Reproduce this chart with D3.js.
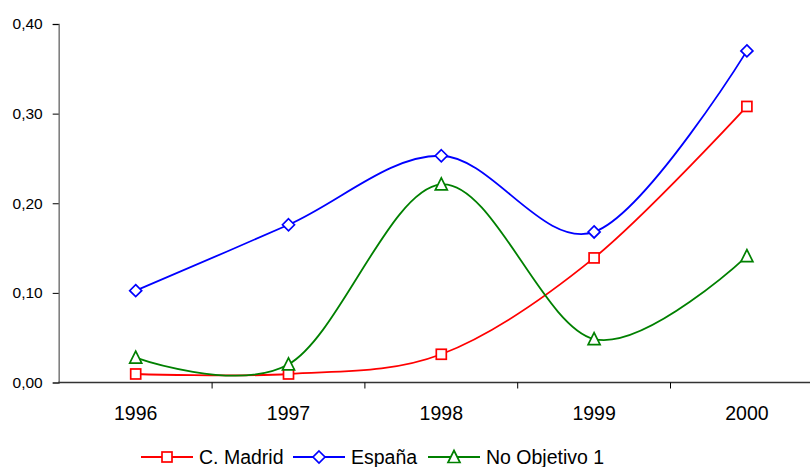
<!DOCTYPE html>
<html><head><meta charset="utf-8">
<script src="https://cdn.jsdelivr.net/npm/d3@7/dist/d3.min.js"></script>
<style>body{margin:0;background:#fff}svg{display:block;font-family:"Liberation Sans",Arial,sans-serif}</style>
</head><body><svg id="c" width="810" height="467"></svg>
<script>
const years = ["1996","1997","1998","1999","2000"];
const madrid = [0.0095, 0.0095, 0.0315, 0.139, 0.308];
const espana = [0.1025, 0.176, 0.253, 0.168, 0.370];
const noObj1 = [0.0277, 0.0203, 0.221, 0.0485, 0.141];
const yTicks = [0, 0.1, 0.2, 0.3, 0.4];
const seriesNames = ["C. Madrid", "España", "No Objetivo 1"];

const series = [
  {name: seriesNames[0], values: madrid, color: "#ff0000", shape: "square"},
  {name: seriesNames[1], values: espana, color: "#0000ff", shape: "diamond"},
  {name: seriesNames[2], values: noObj1, color: "#008000", shape: "triangle"}
];

const svg = d3.select("#c");
const x = d3.scaleBand().domain(years).range([59.3, 823.3]);
const y = d3.scaleLinear().domain([0, 0.4]).range([382.5, 24]);
const cx = d => x(d) + x.bandwidth()/2;

// y axis
const ya = svg.append("g").attr("transform","translate(58.7,0)")
  .call(d3.axisLeft(y).tickValues(yTicks).tickSize(6).tickPadding(10)
    .tickFormat(d => d3.format(".2f")(d).replace(".", ",")));
ya.select(".domain").attr("stroke","#808080").attr("stroke-width",1.6);
ya.selectAll(".tick line").attr("stroke","#000");
ya.selectAll("text").attr("font-size",15.5).attr("fill","#000").attr("font-family","Liberation Sans, Arial, sans-serif");

// x axis
const xa = svg.append("g").attr("transform","translate(0,382.5)");
xa.append("line").attr("x1",58).attr("x2",810).attr("y1",0).attr("y2",0).attr("stroke","#333").attr("stroke-width",1.3);
const bounds = years.slice(0,-1).map(d => x(d) + x.bandwidth());
xa.selectAll(".tk").data(bounds).join("line").attr("x1",d=>d).attr("x2",d=>d).attr("y1",0).attr("y2",6).attr("stroke","#000");
xa.selectAll(".lb").data(years).join("text").attr("x",d=>cx(d)).attr("y",37)
  .attr("text-anchor","middle").attr("font-size",19.5).text(d=>d);

function marker(g, shape, color, px, py) {
  if (shape === "square") {
    g.append("rect").attr("x",px-5).attr("y",py-5).attr("width",10).attr("height",10)
      .attr("fill","#fff").attr("stroke",color).attr("stroke-width",1.7);
  } else if (shape === "diamond") {
    g.append("path").attr("d",`M${px},${py-6}L${px+6},${py}L${px},${py+6}L${px-6},${py}Z`)
      .attr("fill","#fff").attr("stroke",color).attr("stroke-width",1.7);
  } else {
    g.append("path").attr("d",`M${px},${py-6.5}L${px+6},${py+5.5}L${px-6},${py+5.5}Z`)
      .attr("fill","#fff").attr("stroke",color).attr("stroke-width",1.7);
  }
}

const line = d3.line().x((d,i)=>cx(years[i])).y(d=>y(d)).curve(d3.curveCardinal.tension(0));
series.forEach(s => {
  svg.append("path").attr("d", line(s.values)).attr("fill","none").attr("stroke",s.color).attr("stroke-width",1.8);
});
series.forEach(s => {
  const g = svg.append("g");
  s.values.forEach((v,i) => marker(g, s.shape, s.color, cx(years[i]), y(v)));
});

// legend
const legX = [141, 293, 428];
const lg = svg.append("g");
series.forEach((s,i) => {
  const x0 = legX[i], ly = 457;
  lg.append("line").attr("x1",x0).attr("x2",x0+52).attr("y1",ly).attr("y2",ly).attr("stroke",s.color).attr("stroke-width",1.8);
  marker(lg, s.shape, s.color, x0+26, ly);
  lg.append("text").attr("x",x0+58).attr("y",ly+6.5).attr("font-size",19.5).text(s.name);
});
</script></body></html>
